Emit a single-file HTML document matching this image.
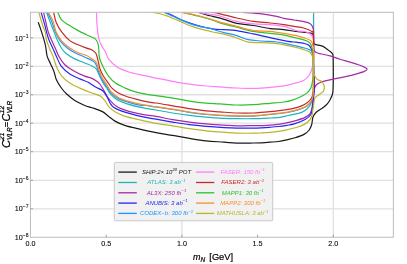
<!DOCTYPE html>
<html><head><meta charset="utf-8"><title>plot</title>
<style>
html,body{margin:0;padding:0;background:#fff;}
body{width:407px;height:264px;overflow:hidden;position:relative;font-family:"Liberation Sans",sans-serif;}
svg text{font-family:"Liberation Sans",sans-serif;}
svg{will-change:transform;}
</style></head><body>
<svg width="407" height="264" viewBox="0 0 407 264" style="position:absolute;left:0;top:0">
<rect x="0" y="0" width="407" height="264" fill="#fff"/>
<line x1="30.45" x2="393.35" y1="208.80" y2="208.80" stroke="#e0e0e0" stroke-width="1.3"/>
<line x1="30.45" x2="393.35" y1="180.35" y2="180.35" stroke="#e0e0e0" stroke-width="1.3"/>
<line x1="30.45" x2="393.35" y1="151.70" y2="151.70" stroke="#e0e0e0" stroke-width="1.3"/>
<line x1="30.45" x2="393.35" y1="123.20" y2="123.20" stroke="#e0e0e0" stroke-width="1.3"/>
<line x1="30.45" x2="393.35" y1="94.75" y2="94.75" stroke="#e0e0e0" stroke-width="1.3"/>
<line x1="30.45" x2="393.35" y1="66.30" y2="66.30" stroke="#e0e0e0" stroke-width="1.3"/>
<line x1="30.45" x2="393.35" y1="37.90" y2="37.90" stroke="#e0e0e0" stroke-width="1.3"/>
<line x1="181.90" x2="181.90" y1="12.30" y2="237.25" stroke="#e0e0e0" stroke-width="1.3"/>
<line x1="333.30" x2="333.30" y1="12.30" y2="237.25" stroke="#e0e0e0" stroke-width="1.3"/>
<clipPath id="ax"><rect x="30.45" y="12.30" width="362.90" height="224.95"/></clipPath>
<g clip-path="url(#ax)" fill="none" stroke-width="1.2" stroke-linejoin="round" stroke-linecap="butt">
<path d="M38.20 22.10C38.73 23.65 40.32 28.03 41.40 31.40C42.48 34.77 43.95 39.53 44.70 42.30C45.45 45.07 45.48 45.65 45.90 48.00C46.32 50.35 46.42 53.75 47.20 56.40C47.98 59.05 49.48 61.40 50.60 63.90C51.72 66.40 52.93 68.77 53.90 71.40C54.87 74.03 55.15 76.93 56.40 79.70C57.65 82.47 59.73 85.65 61.40 88.00C63.07 90.35 64.17 91.72 66.40 93.80C68.63 95.88 71.73 98.55 74.80 100.50C77.87 102.45 81.93 104.30 84.80 105.50C87.67 106.70 89.13 106.72 92.00 107.70C94.87 108.68 99.22 109.95 102.00 111.40C104.78 112.85 106.47 114.73 108.70 116.40C110.93 118.07 112.62 119.87 115.40 121.40C118.18 122.93 121.50 124.35 125.40 125.60C129.30 126.85 133.70 127.73 138.80 128.90C143.90 130.07 150.35 131.52 156.00 132.60C161.65 133.68 167.13 134.43 172.70 135.40C178.27 136.37 183.83 137.48 189.40 138.40C194.97 139.32 200.33 140.28 206.10 140.90C211.87 141.52 218.90 141.73 224.00 142.10C229.10 142.47 231.80 142.95 236.70 143.10C241.60 143.25 249.18 143.05 253.40 143.00C257.62 142.95 259.23 142.93 262.00 142.80C264.77 142.67 267.27 142.42 270.00 142.20C272.73 141.98 275.62 141.88 278.40 141.50C281.18 141.12 283.92 140.52 286.70 139.90C289.48 139.28 292.22 138.72 295.10 137.80C297.98 136.88 301.65 135.70 304.00 134.40C306.35 133.10 307.92 131.65 309.20 130.00C310.48 128.35 311.07 126.67 311.70 124.50C312.33 122.33 312.25 119.05 313.00 117.00C313.75 114.95 314.48 113.80 316.20 112.20C317.92 110.60 321.45 108.78 323.30 107.40C325.15 106.02 326.15 105.22 327.30 103.90C328.45 102.58 329.33 101.15 330.20 99.50C331.07 97.85 332.02 95.92 332.50 94.00C332.98 92.08 332.97 91.50 333.10 88.00C333.23 84.50 333.30 78.18 333.30 73.00C333.30 67.82 333.25 60.13 333.10 56.90C332.95 53.67 333.08 54.65 332.40 53.60C331.72 52.55 330.15 51.53 329.00 50.60C327.85 49.67 326.50 48.70 325.50 48.00C324.50 47.30 324.17 46.88 323.00 46.40C321.83 45.92 319.95 45.50 318.50 45.10C317.05 44.70 315.12 44.85 314.30 44.00C313.48 43.15 313.78 41.42 313.60 40.00C313.42 38.58 313.48 36.60 313.20 35.50C312.92 34.40 313.37 33.93 311.90 33.40C310.43 32.87 307.05 32.62 304.40 32.30C301.75 31.98 299.40 31.95 296.00 31.50C292.60 31.05 288.32 30.08 284.00 29.60C279.68 29.12 275.20 29.28 270.10 28.60C265.00 27.92 258.97 26.37 253.40 25.50C247.83 24.63 241.60 24.43 236.70 23.40C231.80 22.37 227.98 20.47 224.00 19.30C220.02 18.13 215.68 17.12 212.80 16.40C209.92 15.68 209.03 15.68 206.70 15.00C204.37 14.32 200.12 12.75 198.80 12.30" stroke="#1a1a1a"/>
<path d="M46.50 12.30C47.07 13.82 48.67 18.18 49.90 21.40C51.13 24.62 52.63 28.40 53.90 31.60C55.17 34.80 56.25 37.87 57.50 40.60C58.75 43.33 59.92 45.80 61.40 48.00C62.88 50.20 64.17 51.98 66.40 53.80C68.63 55.62 71.73 57.37 74.80 58.90C77.87 60.43 81.93 61.82 84.80 63.00C87.67 64.18 90.10 65.02 92.00 66.00C93.90 66.98 94.95 67.30 96.20 68.90C97.45 70.50 98.25 73.10 99.50 75.60C100.75 78.10 102.50 81.83 103.70 83.90C104.90 85.97 105.58 86.35 106.70 88.00C107.82 89.65 108.67 91.85 110.40 93.80C112.13 95.75 114.32 98.02 117.10 99.70C119.88 101.38 122.93 102.57 127.10 103.90C131.27 105.23 137.28 106.68 142.10 107.70C146.92 108.72 150.90 109.12 156.00 110.00C161.10 110.88 167.13 112.10 172.70 113.00C178.27 113.90 183.83 114.70 189.40 115.40C194.97 116.10 200.33 116.70 206.10 117.20C211.87 117.70 218.90 118.15 224.00 118.40C229.10 118.65 231.80 118.65 236.70 118.70C241.60 118.75 247.83 118.82 253.40 118.70C258.97 118.58 265.67 118.22 270.10 118.00C274.53 117.78 276.95 117.82 280.00 117.40C283.05 116.98 285.62 116.12 288.40 115.50C291.18 114.88 294.48 114.22 296.70 113.70C298.92 113.18 300.05 113.13 301.70 112.40C303.35 111.67 305.23 110.45 306.60 109.30C307.97 108.15 309.00 107.05 309.90 105.50C310.80 103.95 311.43 102.58 312.00 100.00C312.57 97.42 313.03 95.00 313.30 90.00C313.57 85.00 313.55 82.95 313.60 70.00C313.65 57.05 313.60 21.92 313.60 12.30" stroke="#1fb5b5"/>
<path d="M43.60 12.30C44.07 14.37 45.63 21.43 46.40 24.70C47.17 27.97 47.50 29.68 48.20 31.90C48.90 34.12 49.43 35.32 50.60 38.00C51.77 40.68 53.82 44.93 55.20 48.00C56.58 51.07 57.30 53.62 58.90 56.40C60.50 59.18 62.15 62.20 64.80 64.70C67.45 67.20 71.47 69.50 74.80 71.40C78.13 73.30 81.93 74.93 84.80 76.10C87.67 77.27 89.97 77.52 92.00 78.40C94.03 79.28 95.70 80.47 97.00 81.40C98.30 82.33 98.72 82.60 99.80 84.00C100.88 85.40 102.18 87.57 103.50 89.80C104.82 92.03 106.17 95.17 107.70 97.40C109.23 99.63 111.32 101.78 112.70 103.20C114.08 104.62 114.62 105.00 116.00 105.90C117.38 106.80 118.87 107.68 121.00 108.60C123.13 109.52 125.28 110.43 128.80 111.40C132.32 112.37 137.57 113.57 142.10 114.40C146.63 115.23 150.90 115.52 156.00 116.40C161.10 117.28 167.13 118.73 172.70 119.70C178.27 120.67 183.83 121.50 189.40 122.20C194.97 122.90 200.33 123.42 206.10 123.90C211.87 124.38 218.90 124.77 224.00 125.10C229.10 125.43 231.80 125.82 236.70 125.90C241.60 125.98 248.40 125.70 253.40 125.60C258.40 125.50 262.27 125.55 266.70 125.30C271.13 125.05 276.38 124.58 280.00 124.10C283.62 123.62 285.62 123.02 288.40 122.40C291.18 121.78 293.92 121.23 296.70 120.40C299.48 119.57 302.87 118.52 305.10 117.40C307.33 116.28 308.93 115.43 310.10 113.70C311.27 111.97 311.65 109.28 312.10 107.00C312.55 104.72 312.52 102.53 312.80 100.00C313.08 97.47 313.32 94.20 313.80 91.80C314.28 89.40 314.53 87.18 315.70 85.60C316.87 84.02 317.73 83.42 320.80 82.30C323.87 81.18 329.78 79.88 334.10 78.90C338.42 77.92 342.93 77.25 346.70 76.40C350.47 75.55 353.77 74.63 356.70 73.80C359.63 72.97 362.57 72.17 364.30 71.40C366.03 70.63 367.10 69.92 367.10 69.20C367.10 68.48 365.75 67.85 364.30 67.10C362.85 66.35 360.78 65.53 358.40 64.70C356.02 63.87 353.07 63.02 350.00 62.10C346.93 61.18 343.33 60.23 340.00 59.20C336.67 58.17 333.77 56.93 330.00 55.90C326.23 54.87 320.03 53.90 317.40 53.00C314.77 52.10 314.82 51.83 314.20 50.50C313.58 49.17 313.80 48.18 313.70 45.00C313.60 41.82 313.82 34.50 313.60 31.40C313.38 28.30 313.02 27.73 312.40 26.40C311.78 25.07 311.30 24.18 309.90 23.40C308.50 22.62 306.65 22.27 304.00 21.70C301.35 21.13 297.33 20.55 294.00 20.00C290.67 19.45 286.87 19.00 284.00 18.40C281.13 17.80 280.50 17.17 276.80 16.40C273.10 15.63 267.50 14.48 261.80 13.80C256.10 13.12 245.80 12.55 242.60 12.30" stroke="#a52aa5"/>
<path d="M41.10 12.30C41.70 14.37 43.80 21.43 44.70 24.70C45.60 27.97 45.80 29.40 46.50 31.90C47.20 34.40 47.87 37.02 48.90 39.70C49.93 42.38 51.45 45.22 52.70 48.00C53.95 50.78 54.95 53.33 56.40 56.40C57.85 59.47 59.17 63.48 61.40 66.40C63.63 69.32 66.73 71.82 69.80 73.90C72.87 75.98 76.75 77.50 79.80 78.90C82.85 80.30 86.07 81.32 88.10 82.30C90.13 83.28 90.68 83.97 92.00 84.80C93.32 85.63 94.22 86.32 96.00 87.30C97.78 88.28 100.88 89.17 102.70 90.70C104.52 92.23 105.65 94.42 106.90 96.50C108.15 98.58 109.10 101.40 110.20 103.20C111.30 105.00 111.80 106.07 113.50 107.30C115.20 108.53 117.02 109.37 120.40 110.60C123.78 111.83 129.35 113.52 133.80 114.70C138.25 115.88 143.40 116.95 147.10 117.70C150.80 118.45 151.73 118.47 156.00 119.20C160.27 119.93 167.13 121.18 172.70 122.10C178.27 123.02 183.83 123.98 189.40 124.70C194.97 125.42 200.33 125.92 206.10 126.40C211.87 126.88 218.90 127.32 224.00 127.60C229.10 127.88 231.80 128.00 236.70 128.10C241.60 128.20 249.18 128.23 253.40 128.20C257.62 128.17 259.23 128.05 262.00 127.90C264.77 127.75 267.27 127.53 270.00 127.30C272.73 127.07 275.62 126.83 278.40 126.50C281.18 126.17 284.07 125.73 286.70 125.30C289.33 124.87 291.13 124.87 294.20 123.90C297.27 122.93 302.32 121.07 305.10 119.50C307.88 117.93 309.67 116.50 310.90 114.50C312.13 112.50 312.08 109.92 312.50 107.50C312.92 105.08 313.10 102.92 313.40 100.00C313.70 97.08 314.12 93.17 314.30 90.00C314.48 86.83 314.60 84.33 314.50 81.00C314.40 77.67 313.92 73.83 313.70 70.00C313.48 66.17 313.43 61.00 313.20 58.00C312.97 55.00 312.67 53.65 312.30 52.00C311.93 50.35 311.63 49.25 311.00 48.10C310.37 46.95 309.60 45.87 308.50 45.10C307.40 44.33 306.48 43.98 304.40 43.50C302.32 43.02 298.73 42.55 296.00 42.20C293.27 41.85 292.32 42.15 288.00 41.40C283.68 40.65 275.87 38.95 270.10 37.70C264.33 36.45 258.97 35.08 253.40 33.90C247.83 32.72 241.60 31.30 236.70 30.60C231.80 29.90 227.98 29.98 224.00 29.70C220.02 29.42 217.17 29.60 212.80 28.90C208.43 28.20 203.10 27.03 197.80 25.50C192.50 23.97 185.18 21.37 181.00 19.70C176.82 18.03 175.47 16.73 172.70 15.50C169.93 14.27 165.78 12.83 164.40 12.30" stroke="#2626f0"/>
<path d="M47.40 12.30C48.12 13.82 50.37 18.13 51.70 21.40C53.03 24.67 54.02 28.70 55.40 31.90C56.78 35.10 58.02 37.92 60.00 40.60C61.98 43.28 64.83 45.98 67.30 48.00C69.77 50.02 71.88 51.17 74.80 52.70C77.72 54.23 81.93 55.90 84.80 57.20C87.67 58.50 90.20 59.43 92.00 60.50C93.80 61.57 94.53 61.85 95.60 63.60C96.67 65.35 97.47 68.57 98.40 71.00C99.33 73.43 100.05 75.95 101.20 78.20C102.35 80.45 104.18 82.77 105.30 84.50C106.42 86.23 107.02 87.25 107.90 88.60C108.78 89.95 108.88 90.93 110.60 92.60C112.32 94.27 115.22 96.98 118.20 98.60C121.18 100.22 124.53 101.13 128.50 102.30C132.47 103.47 139.73 105.15 142.00 105.60C144.27 106.05 139.77 104.77 142.10 105.00C144.43 105.23 150.90 106.25 156.00 107.00C161.10 107.75 167.13 108.62 172.70 109.50C178.27 110.38 183.83 111.47 189.40 112.30C194.97 113.13 201.00 113.97 206.10 114.50C211.20 115.03 214.90 115.23 220.00 115.50C225.10 115.77 231.13 116.00 236.70 116.10C242.27 116.20 247.83 116.37 253.40 116.10C258.97 115.83 265.00 115.02 270.10 114.50C275.20 113.98 280.28 113.53 284.00 113.00C287.72 112.47 289.62 111.98 292.40 111.30C295.18 110.62 298.33 109.75 300.70 108.90C303.07 108.05 304.93 107.30 306.60 106.20C308.27 105.10 309.65 104.00 310.70 102.30C311.75 100.60 312.45 99.72 312.90 96.00C313.35 92.28 313.38 86.33 313.40 80.00C313.42 73.67 313.30 62.78 313.00 58.00C312.70 53.22 312.35 52.75 311.60 51.30C310.85 49.85 309.70 49.85 308.50 49.30C307.30 48.75 306.48 48.57 304.40 48.00C302.32 47.43 298.73 46.55 296.00 45.90C293.27 45.25 291.20 44.75 288.00 44.10C284.80 43.45 281.17 42.52 276.80 42.00C272.43 41.48 266.53 41.38 261.80 41.00C257.07 40.62 252.58 40.60 248.40 39.70C244.22 38.80 240.77 36.78 236.70 35.60C232.63 34.42 227.45 33.48 224.00 32.60C220.55 31.72 218.33 31.00 216.00 30.30C213.67 29.60 212.48 28.98 210.00 28.40C207.52 27.82 203.98 27.43 201.10 26.80C198.22 26.17 195.48 25.50 192.70 24.60C189.92 23.70 187.18 22.57 184.40 21.40C181.62 20.23 178.23 18.58 176.00 17.60C173.77 16.62 172.97 16.38 171.00 15.50C169.03 14.62 165.33 12.83 164.20 12.30" stroke="#1e96ff"/>
<path d="M96.50 12.30C96.58 14.37 96.63 20.40 97.00 24.70C97.37 29.00 98.00 34.75 98.70 38.10C99.40 41.45 100.50 43.15 101.20 44.80C101.90 46.45 102.20 46.83 102.90 48.00C103.60 49.17 104.43 49.93 105.40 51.80C106.37 53.67 106.75 56.65 108.70 59.20C110.65 61.75 113.75 64.97 117.10 67.10C120.45 69.23 124.63 70.65 128.80 72.00C132.97 73.35 137.57 74.18 142.10 75.20C146.63 76.22 150.90 77.07 156.00 78.10C161.10 79.13 167.13 80.38 172.70 81.40C178.27 82.42 183.83 83.43 189.40 84.20C194.97 84.97 201.00 85.55 206.10 86.00C211.20 86.45 214.90 86.57 220.00 86.90C225.10 87.23 231.13 87.75 236.70 88.00C242.27 88.25 247.83 88.50 253.40 88.40C258.97 88.30 265.00 87.83 270.10 87.40C275.20 86.97 280.02 86.45 284.00 85.80C287.98 85.15 290.67 84.43 294.00 83.50C297.33 82.57 301.40 81.70 304.00 80.20C306.60 78.70 308.22 76.62 309.60 74.50C310.98 72.38 311.70 70.25 312.30 67.50C312.90 64.75 313.00 62.63 313.20 58.00C313.40 53.37 313.65 43.30 313.50 39.70C313.35 36.10 312.98 37.45 312.30 36.40C311.62 35.35 310.72 34.22 309.40 33.40C308.08 32.58 306.63 31.98 304.40 31.50C302.17 31.02 299.40 31.35 296.00 30.50C292.60 29.65 288.32 27.37 284.00 26.40C279.68 25.43 275.20 25.12 270.10 24.70C265.00 24.28 258.97 24.45 253.40 23.90C247.83 23.35 242.27 22.72 236.70 21.40C231.13 20.08 223.98 17.12 220.00 16.00C216.02 14.88 216.62 15.32 212.80 14.70C208.98 14.08 199.72 12.70 197.10 12.30" stroke="#ff7dfa"/>
<path d="M53.60 12.30C54.07 14.08 55.00 19.67 56.40 23.00C57.80 26.33 59.77 29.37 62.00 32.30C64.23 35.23 67.12 38.52 69.80 40.60C72.48 42.68 75.32 43.55 78.10 44.80C80.88 46.05 84.18 47.23 86.50 48.10C88.82 48.97 90.42 49.10 92.00 50.00C93.58 50.90 94.93 51.50 96.00 53.50C97.07 55.50 97.75 59.47 98.40 62.00C99.05 64.53 99.05 66.33 99.90 68.70C100.75 71.07 102.07 73.77 103.50 76.20C104.93 78.63 107.08 81.30 108.50 83.30C109.92 85.30 110.57 86.72 112.00 88.20C113.43 89.68 114.87 90.90 117.10 92.20C119.33 93.50 122.07 94.80 125.40 96.00C128.73 97.20 133.20 98.37 137.10 99.40C141.00 100.43 145.65 101.60 148.80 102.20C151.95 102.80 152.02 102.40 156.00 103.00C159.98 103.60 167.13 104.85 172.70 105.80C178.27 106.75 183.83 107.85 189.40 108.70C194.97 109.55 201.00 110.37 206.10 110.90C211.20 111.43 214.90 111.55 220.00 111.90C225.10 112.25 231.13 112.82 236.70 113.00C242.27 113.18 247.83 113.22 253.40 113.00C258.97 112.78 265.00 112.20 270.10 111.70C275.20 111.20 280.28 110.50 284.00 110.00C287.72 109.50 289.48 109.38 292.40 108.70C295.32 108.02 298.98 106.95 301.50 105.90C304.02 104.85 305.93 103.55 307.50 102.40C309.07 101.25 310.00 100.32 310.90 99.00C311.80 97.68 312.43 96.33 312.90 94.50C313.37 92.67 313.57 93.75 313.70 88.00C313.83 82.25 313.75 69.03 313.70 60.00C313.65 50.97 313.63 38.50 313.40 33.80C313.17 29.10 313.12 32.48 312.30 31.80C311.48 31.12 309.97 30.33 308.50 29.70C307.03 29.07 305.92 28.55 303.50 28.00C301.08 27.45 297.25 26.95 294.00 26.40C290.75 25.85 287.98 25.27 284.00 24.70C280.02 24.13 275.20 23.55 270.10 23.00C265.00 22.45 258.97 22.23 253.40 21.40C247.83 20.57 242.27 19.27 236.70 18.00C231.13 16.73 224.23 14.75 220.00 13.80C215.77 12.85 212.75 12.55 211.30 12.30" stroke="#c42a2a"/>
<path d="M57.80 12.30C58.40 13.53 59.70 17.65 61.40 19.70C63.10 21.75 65.22 22.78 68.00 24.60C70.78 26.42 75.02 28.92 78.10 30.60C81.18 32.28 84.18 33.60 86.50 34.70C88.82 35.80 90.53 36.50 92.00 37.20C93.47 37.90 94.33 37.92 95.30 38.90C96.27 39.88 97.23 41.58 97.80 43.10C98.37 44.62 98.42 45.52 98.70 48.00C98.98 50.48 98.67 54.67 99.50 58.00C100.33 61.33 102.17 64.93 103.70 68.00C105.23 71.07 106.75 73.88 108.70 76.40C110.65 78.92 112.62 81.15 115.40 83.10C118.18 85.05 122.33 86.73 125.40 88.10C128.47 89.47 130.18 90.27 133.80 91.30C137.42 92.33 143.40 93.58 147.10 94.30C150.80 95.02 151.73 94.97 156.00 95.60C160.27 96.23 167.13 97.18 172.70 98.10C178.27 99.02 183.83 100.27 189.40 101.10C194.97 101.93 201.00 102.65 206.10 103.10C211.20 103.55 214.90 103.48 220.00 103.80C225.10 104.12 231.13 104.85 236.70 105.00C242.27 105.15 247.83 104.98 253.40 104.70C258.97 104.42 265.00 103.75 270.10 103.30C275.20 102.85 280.28 102.53 284.00 102.00C287.72 101.47 289.62 100.97 292.40 100.10C295.18 99.23 298.20 98.05 300.70 96.80C303.20 95.55 305.73 94.03 307.40 92.60C309.07 91.17 309.97 89.50 310.70 88.20C311.43 86.90 311.47 86.17 311.80 84.80C312.13 83.43 312.48 81.80 312.70 80.00C312.92 78.20 313.02 77.33 313.10 74.00C313.18 70.67 313.32 64.02 313.20 60.00C313.08 55.98 312.77 52.45 312.40 49.90C312.03 47.35 311.65 46.05 311.00 44.70C310.35 43.35 309.60 42.57 308.50 41.80C307.40 41.03 306.48 40.73 304.40 40.10C302.32 39.47 299.40 38.83 296.00 38.00C292.60 37.17 288.32 35.87 284.00 35.10C279.68 34.33 275.20 34.02 270.10 33.40C265.00 32.78 258.97 32.43 253.40 31.40C247.83 30.37 242.27 28.63 236.70 27.20C231.13 25.77 223.98 23.95 220.00 22.80C216.02 21.65 216.50 21.43 212.80 20.30C209.10 19.17 202.77 17.33 197.80 16.00C192.83 14.67 185.47 12.92 183.00 12.30" stroke="#2fc12f"/>
<path d="M48.60 12.30C49.35 13.82 51.85 18.13 53.10 21.40C54.35 24.67 54.72 28.70 56.10 31.90C57.48 35.10 59.12 37.92 61.40 40.60C63.68 43.28 67.02 45.98 69.80 48.00C72.58 50.02 75.32 51.45 78.10 52.70C80.88 53.95 84.18 54.47 86.50 55.50C88.82 56.53 90.38 57.78 92.00 58.90C93.62 60.02 95.00 60.28 96.20 62.20C97.40 64.12 98.25 67.88 99.20 70.40C100.15 72.92 100.77 75.10 101.90 77.30C103.03 79.50 104.88 81.85 106.00 83.60C107.12 85.35 107.73 86.43 108.60 87.80C109.47 89.17 109.52 90.15 111.20 91.80C112.88 93.45 115.77 96.10 118.70 97.70C121.63 99.30 124.90 100.23 128.80 101.40C132.70 102.57 137.57 103.82 142.10 104.70C146.63 105.58 150.90 105.95 156.00 106.70C161.10 107.45 167.13 108.32 172.70 109.20C178.27 110.08 183.83 111.17 189.40 112.00C194.97 112.83 201.00 113.67 206.10 114.20C211.20 114.73 214.90 114.93 220.00 115.20C225.10 115.47 231.13 115.70 236.70 115.80C242.27 115.90 247.83 116.07 253.40 115.80C258.97 115.53 265.00 114.72 270.10 114.20C275.20 113.68 280.28 113.23 284.00 112.70C287.72 112.17 289.62 111.68 292.40 111.00C295.18 110.32 298.33 109.45 300.70 108.60C303.07 107.75 304.88 107.13 306.60 105.90C308.32 104.67 309.92 103.02 311.00 101.20C312.08 99.38 312.68 98.53 313.10 95.00C313.52 91.47 313.43 87.52 313.50 80.00C313.57 72.48 313.57 55.50 313.50 49.90C313.43 44.30 313.37 47.68 313.10 46.40C312.83 45.12 312.45 43.25 311.90 42.20C311.35 41.15 311.05 40.80 309.80 40.10C308.55 39.40 306.70 38.73 304.40 38.00C302.10 37.27 299.40 36.47 296.00 35.70C292.60 34.93 288.32 34.12 284.00 33.40C279.68 32.68 275.20 31.87 270.10 31.40C265.00 30.93 258.97 31.43 253.40 30.60C247.83 29.77 242.27 27.80 236.70 26.40C231.13 25.00 223.98 23.32 220.00 22.20C216.02 21.08 216.50 20.82 212.80 19.70C209.10 18.58 202.95 16.73 197.80 15.50C192.65 14.27 184.55 12.83 181.90 12.30" stroke="#f98e2b"/>
<path d="M38.80 12.30C39.50 14.65 41.92 23.13 43.00 26.40C44.08 29.67 44.73 29.68 45.30 31.90C45.87 34.12 45.72 37.02 46.40 39.70C47.08 42.38 48.28 45.22 49.40 48.00C50.52 50.78 51.93 53.33 53.10 56.40C54.27 59.47 55.02 63.20 56.40 66.40C57.78 69.60 59.17 72.82 61.40 75.60C63.63 78.38 66.73 81.02 69.80 83.10C72.87 85.18 76.10 86.45 79.80 88.10C83.50 89.75 89.30 91.95 92.00 93.00C94.70 94.05 94.50 93.82 96.00 94.40C97.50 94.98 99.47 95.38 101.00 96.50C102.53 97.62 103.87 99.38 105.20 101.10C106.53 102.82 107.30 104.98 109.00 106.80C110.70 108.62 112.67 110.40 115.40 112.00C118.13 113.60 121.50 115.12 125.40 116.40C129.30 117.68 133.70 118.53 138.80 119.70C143.90 120.87 150.35 122.37 156.00 123.40C161.65 124.43 167.13 125.02 172.70 125.90C178.27 126.78 183.83 127.87 189.40 128.70C194.97 129.53 200.33 130.32 206.10 130.90C211.87 131.48 218.90 131.83 224.00 132.20C229.10 132.57 231.80 132.93 236.70 133.10C241.60 133.27 249.18 133.23 253.40 133.20C257.62 133.17 259.23 133.03 262.00 132.90C264.77 132.77 267.27 132.65 270.00 132.40C272.73 132.15 275.62 131.83 278.40 131.40C281.18 130.97 283.92 130.40 286.70 129.80C289.48 129.20 292.22 128.67 295.10 127.80C297.98 126.93 301.50 125.98 304.00 124.60C306.50 123.22 308.73 121.18 310.10 119.50C311.47 117.82 311.72 116.25 312.20 114.50C312.68 112.75 312.75 110.63 313.00 109.00C313.25 107.37 313.38 106.53 313.70 104.70C314.02 102.87 314.00 99.67 314.90 98.00C315.80 96.33 317.70 95.82 319.10 94.70C320.50 93.58 322.45 92.42 323.30 91.30C324.15 90.18 324.07 88.95 324.20 88.00C324.33 87.05 324.53 86.70 324.10 85.60C323.67 84.50 322.85 82.52 321.60 81.40C320.35 80.28 317.88 80.30 316.60 78.90C315.32 77.50 314.45 76.20 313.90 73.00C313.35 69.80 313.83 63.03 313.30 59.70C312.77 56.37 311.97 54.58 310.70 53.00C309.43 51.42 307.50 50.97 305.70 50.20C303.90 49.43 301.52 48.88 299.90 48.40C298.28 47.92 298.65 47.90 296.00 47.30C293.35 46.70 287.20 45.42 284.00 44.80C280.80 44.18 280.50 43.95 276.80 43.60C273.10 43.25 266.53 42.93 261.80 42.70C257.07 42.47 252.58 42.98 248.40 42.20C244.22 41.42 240.77 39.33 236.70 38.00C232.63 36.67 227.98 35.20 224.00 34.20C220.02 33.20 216.62 32.85 212.80 32.00C208.98 31.15 204.45 30.00 201.10 29.10C197.75 28.20 195.48 27.57 192.70 26.60C189.92 25.63 186.85 24.33 184.40 23.30C181.95 22.27 179.98 21.25 178.00 20.40C176.02 19.55 174.35 18.95 172.50 18.20C170.65 17.45 169.23 16.68 166.90 15.90C164.57 15.12 161.08 14.10 158.50 13.50C155.92 12.90 152.58 12.50 151.40 12.30" stroke="#bcb52a"/>
</g>
<rect x="30.45" y="12.30" width="362.90" height="224.95" fill="none" stroke="#bcbcbc" stroke-width="1"/>
<line x1="30.45" x2="33.05" y1="208.80" y2="208.80" stroke="#9a9a9a" stroke-width="0.9"/>
<line x1="30.45" x2="33.05" y1="180.35" y2="180.35" stroke="#9a9a9a" stroke-width="0.9"/>
<line x1="30.45" x2="33.05" y1="151.70" y2="151.70" stroke="#9a9a9a" stroke-width="0.9"/>
<line x1="30.45" x2="33.05" y1="123.20" y2="123.20" stroke="#9a9a9a" stroke-width="0.9"/>
<line x1="30.45" x2="33.05" y1="94.75" y2="94.75" stroke="#9a9a9a" stroke-width="0.9"/>
<line x1="30.45" x2="33.05" y1="66.30" y2="66.30" stroke="#9a9a9a" stroke-width="0.9"/>
<line x1="30.45" x2="33.05" y1="37.90" y2="37.90" stroke="#9a9a9a" stroke-width="0.9"/>
<line x1="106.20" x2="106.20" y1="237.25" y2="234.65" stroke="#9a9a9a" stroke-width="0.9"/>
<line x1="181.90" x2="181.90" y1="237.25" y2="234.65" stroke="#9a9a9a" stroke-width="0.9"/>
<line x1="257.60" x2="257.60" y1="237.25" y2="234.65" stroke="#9a9a9a" stroke-width="0.9"/>
<line x1="333.30" x2="333.30" y1="237.25" y2="234.65" stroke="#9a9a9a" stroke-width="0.9"/>
<rect x="114.3" y="162.4" width="158.4" height="58.4" rx="1" ry="1" fill="#f1f1f1" stroke="#c4c4c4" stroke-width="0.9"/>
<line x1="118.30" x2="136.80" y1="172.10" y2="172.10" stroke="#1a1a1a" stroke-width="1.3"/>
<text x="166.50" y="173.90" text-anchor="middle" font-style="italic" font-size="6.00" fill="#1a1a1a">SHiP:2× 10<tspan dy="-2.7" font-size="4.20">20</tspan><tspan dy="2.7"> POT</tspan></text>
<line x1="118.30" x2="136.80" y1="182.50" y2="182.50" stroke="#1fb5b5" stroke-width="1.3"/>
<text x="166.50" y="184.30" text-anchor="middle" font-style="italic" font-size="6.00" fill="#1fb5b5">ATLAS: 3 ab<tspan dy="-2.7" font-size="4.20">−1</tspan><tspan dy="2.7"></tspan></text>
<line x1="118.30" x2="136.80" y1="192.80" y2="192.80" stroke="#a52aa5" stroke-width="1.3"/>
<text x="166.50" y="194.60" text-anchor="middle" font-style="italic" font-size="6.00" fill="#a52aa5">AL3X: 250 fb<tspan dy="-2.7" font-size="4.20">−1</tspan><tspan dy="2.7"></tspan></text>
<line x1="118.30" x2="136.80" y1="203.10" y2="203.10" stroke="#2626f0" stroke-width="1.3"/>
<text x="166.50" y="204.90" text-anchor="middle" font-style="italic" font-size="6.00" fill="#2626f0">ANUBIS: 3 ab<tspan dy="-2.7" font-size="4.20">−1</tspan><tspan dy="2.7"></tspan></text>
<line x1="118.30" x2="136.80" y1="213.40" y2="213.40" stroke="#1e96ff" stroke-width="1.3"/>
<text x="166.50" y="215.20" text-anchor="middle" font-style="italic" font-size="6.00" fill="#1e96ff">CODEX−b: 300 fb<tspan dy="-2.7" font-size="4.20">−1</tspan><tspan dy="2.7"></tspan></text>
<line x1="196.00" x2="214.30" y1="172.10" y2="172.10" stroke="#ff7dfa" stroke-width="1.3"/>
<text x="242.70" y="173.90" text-anchor="middle" font-style="italic" font-size="6.00" fill="#ff7dfa">FASER: 150 fb<tspan dy="-2.7" font-size="4.20">−1</tspan><tspan dy="2.7"></tspan></text>
<line x1="196.00" x2="214.30" y1="182.50" y2="182.50" stroke="#c42a2a" stroke-width="1.3"/>
<text x="242.70" y="184.30" text-anchor="middle" font-style="italic" font-size="6.00" fill="#c42a2a">FASER2: 3 ab<tspan dy="-2.7" font-size="4.20">−1</tspan><tspan dy="2.7"></tspan></text>
<line x1="196.00" x2="214.30" y1="192.80" y2="192.80" stroke="#2fc12f" stroke-width="1.3"/>
<text x="242.70" y="194.60" text-anchor="middle" font-style="italic" font-size="6.00" fill="#2fc12f">MAPP1: 30 fb<tspan dy="-2.7" font-size="4.20">−1</tspan><tspan dy="2.7"></tspan></text>
<line x1="196.00" x2="214.30" y1="203.10" y2="203.10" stroke="#f98e2b" stroke-width="1.3"/>
<text x="242.70" y="204.90" text-anchor="middle" font-style="italic" font-size="6.00" fill="#f98e2b">MAPP2: 300 fb<tspan dy="-2.7" font-size="4.20">−1</tspan><tspan dy="2.7"></tspan></text>
<line x1="196.00" x2="214.30" y1="213.40" y2="213.40" stroke="#bcb52a" stroke-width="1.3"/>
<text x="242.70" y="215.20" text-anchor="middle" font-style="italic" font-size="6.00" fill="#bcb52a">MATHUSLA: 3 ab<tspan dy="-2.7" font-size="4.20">−1</tspan><tspan dy="2.7"></tspan></text>
<text x="28.6" y="239.85" text-anchor="end" font-size="7.20" fill="#000" stroke="#000" stroke-width="0.08">10<tspan dy="-3.0" font-size="5.04">−8</tspan></text>
<text x="28.6" y="211.40" text-anchor="end" font-size="7.20" fill="#000" stroke="#000" stroke-width="0.08">10<tspan dy="-3.0" font-size="5.04">−7</tspan></text>
<text x="28.6" y="182.95" text-anchor="end" font-size="7.20" fill="#000" stroke="#000" stroke-width="0.08">10<tspan dy="-3.0" font-size="5.04">−6</tspan></text>
<text x="28.6" y="154.30" text-anchor="end" font-size="7.20" fill="#000" stroke="#000" stroke-width="0.08">10<tspan dy="-3.0" font-size="5.04">−5</tspan></text>
<text x="28.6" y="125.80" text-anchor="end" font-size="7.20" fill="#000" stroke="#000" stroke-width="0.08">10<tspan dy="-3.0" font-size="5.04">−4</tspan></text>
<text x="28.6" y="97.35" text-anchor="end" font-size="7.20" fill="#000" stroke="#000" stroke-width="0.08">10<tspan dy="-3.0" font-size="5.04">−3</tspan></text>
<text x="28.6" y="68.90" text-anchor="end" font-size="7.20" fill="#000" stroke="#000" stroke-width="0.08">10<tspan dy="-3.0" font-size="5.04">−2</tspan></text>
<text x="28.6" y="40.50" text-anchor="end" font-size="7.20" fill="#000" stroke="#000" stroke-width="0.08">10<tspan dy="-3.0" font-size="5.04">−1</tspan></text>
<text x="30.50" y="245.8" text-anchor="middle" font-size="7.20" fill="#000" stroke="#000" stroke-width="0.08">0.0</text>
<text x="106.20" y="245.8" text-anchor="middle" font-size="7.20" fill="#000" stroke="#000" stroke-width="0.08">0.5</text>
<text x="181.90" y="245.8" text-anchor="middle" font-size="7.20" fill="#000" stroke="#000" stroke-width="0.08">1.0</text>
<text x="257.60" y="245.8" text-anchor="middle" font-size="7.20" fill="#000" stroke="#000" stroke-width="0.08">1.5</text>
<text x="333.30" y="245.8" text-anchor="middle" font-size="7.20" fill="#000" stroke="#000" stroke-width="0.08">2.0</text>
<text x="192.9" y="259.8" font-size="9.0" fill="#000" stroke="#000" stroke-width="0.2" font-style="italic">m<tspan font-size="6.5" dy="2.0">N</tspan></text>
<text x="209.3" y="259.8" font-size="9.3" fill="#000" stroke="#000" stroke-width="0.2">[GeV]</text>
<g transform="rotate(-90)" fill="#000" stroke="#000" stroke-width="0.25"><text x="-148.0" y="9.7" font-size="11.2" font-style="italic">C</text><text x="-139.9" y="11.7" font-size="6.4" font-style="italic">VLR</text><text x="-139.9" y="4.3" font-size="6.5" font-style="italic">21</text><text x="-127.2" y="9.2" font-size="9.3">=</text><text x="-121.5" y="9.7" font-size="11.2" font-style="italic">C</text><text x="-113.3" y="11.7" font-size="6.4" font-style="italic">VLR</text><text x="-113.2" y="4.3" font-size="6.5" font-style="italic">12</text></g>
</svg>
</body></html>
